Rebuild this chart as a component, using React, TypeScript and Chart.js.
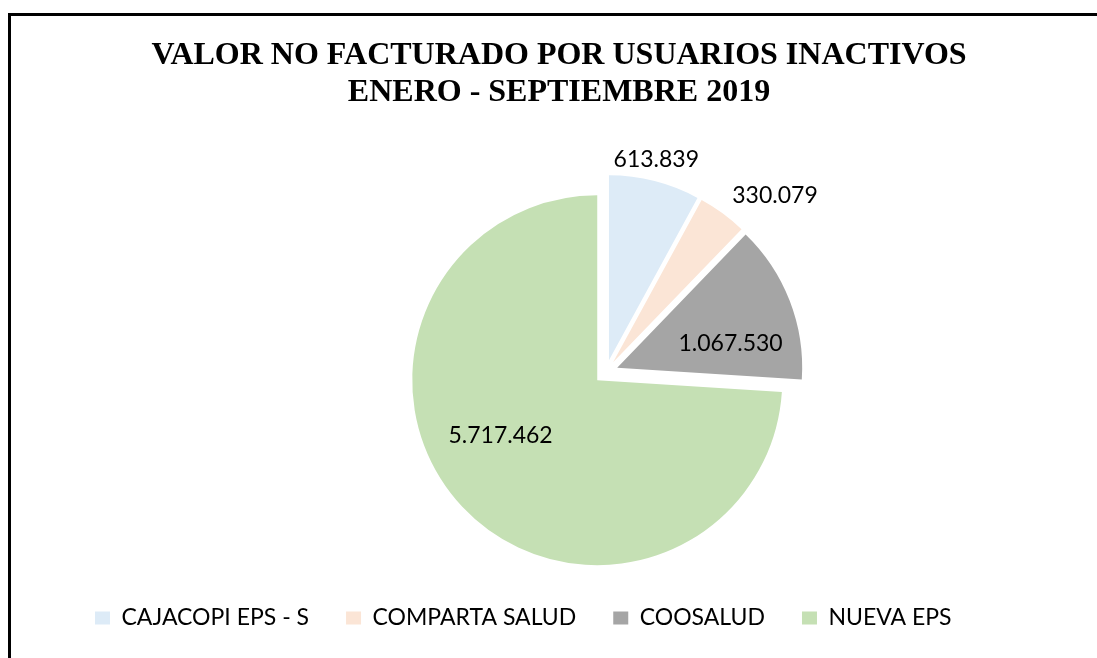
import React, { useEffect, useRef } from "react";
import { Chart, registerables } from "chart.js";

Chart.register(...registerables);

const TITLE_LINES = ["VALOR NO FACTURADO POR USUARIOS INACTIVOS", "ENERO - SEPTIEMBRE 2019"];
const CATEGORIES = ["CAJACOPI EPS - S", "COMPARTA SALUD", "COOSALUD", "NUEVA EPS"];
const VALUES = [613839, 330079, 1067530, 5717462];
const COLORS = ["#DDEBF7", "#FBE5D6", "#A5A5A5", "#C5E0B4"];
// label placement relative to each slice: fraction of radius, angular shift (deg, clockwise)
const LABEL_RADIUS = [1.113, 1.258, 0.626, 0.603];
const LABEL_SHIFT = [-1.0, 7.8, 9.4, 13.2];

const EXPLODE = 12;
const PIE_RADIUS = 185;

function formatEs(v: number): string {
  return String(Math.round(v)).replace(/\B(?=(\d{3})+(?!\d))/g, ".");
}

const explodePlugin = {
  id: "explodeSlices",
  beforeDatasetDraw(chart: any, args: any) {
    const ctx = chart.ctx;
    args.meta.data.forEach((arc: any) => {
      const p = arc.getProps(["startAngle", "endAngle"], true);
      const mid = (p.startAngle + p.endAngle) / 2;
      ctx.save();
      ctx.translate(Math.cos(mid) * EXPLODE, Math.sin(mid) * EXPLODE);
      arc.draw(ctx, chart.chartArea);
      ctx.restore();
    });
    return false;
  },
};

const labelPlugin = {
  id: "sliceLabels",
  afterDatasetsDraw(chart: any) {
    const meta = chart.getDatasetMeta(0);
    const data = chart.data.datasets[0].data as number[];
    const ctx = chart.ctx;
    ctx.save();
    ctx.font = "23px Lato";
    ctx.fillStyle = "#000";
    ctx.textAlign = "center";
    ctx.textBaseline = "middle";
    meta.data.forEach((arc: any, i: number) => {
      const p = arc.getProps(["x", "y", "startAngle", "endAngle", "outerRadius"], true);
      const mid = (p.startAngle + p.endAngle) / 2;
      const cx = p.x + Math.cos(mid) * EXPLODE;
      const cy = p.y + Math.sin(mid) * EXPLODE;
      const a = mid + (LABEL_SHIFT[i] * Math.PI) / 180;
      const r = p.outerRadius * LABEL_RADIUS[i];
      ctx.fillText(formatEs(data[i]), cx + Math.cos(a) * r, cy + Math.sin(a) * r);
    });
    ctx.restore();
  },
};

export default function App() {
  const canvasRef = useRef<HTMLCanvasElement | null>(null);

  useEffect(() => {
    if (!canvasRef.current) return;
    const chart = new Chart(canvasRef.current, {
      type: "pie",
      data: {
        labels: CATEGORIES,
        datasets: [
          {
            data: VALUES,
            backgroundColor: COLORS,
            borderWidth: 0,
          },
        ],
      },
      options: {
        responsive: false,
        animation: false,
        events: [],
        radius: PIE_RADIUS,
        layout: { padding: { left: 58, right: 6, top: 174.5, bottom: 18.5 } },
        plugins: {
          title: { display: false },
          tooltip: { enabled: false },
          legend: {
            display: true,
            position: "bottom",
            align: "start",
            labels: {
              boxWidth: 15,
              boxHeight: 13,
              padding: 37,
              color: "#000",
              font: { family: "Lato", size: 23 },
            },
          },
        },
      } as any,
      plugins: [explodePlugin, labelPlugin],
    });
    return () => chart.destroy();
  }, []);

  return (
    <div
      style={{
        position: "fixed",
        left: 0,
        top: 0,
        width: 1097,
        height: 658,
        overflow: "hidden",
        background: "#fff",
      }}
    >
      <div
        style={{
          position: "absolute",
          left: 8,
          top: 13,
          width: 1200,
          height: 800,
          borderLeft: "3px solid #000",
          borderTop: "3px solid #000",
        }}
      />
      <canvas
        ref={canvasRef}
        width={1160}
        height={658}
        style={{ position: "absolute", left: 0, top: 0, width: 1160, height: 658 }}
      />
      <div
        style={{
          position: "absolute",
          left: 0,
          top: 35,
          width: 1118,
          textAlign: "center",
          fontFamily: "'Liberation Serif', 'Times New Roman', serif",
          fontWeight: "bold",
          fontSize: 32,
          lineHeight: "37px",
          color: "#000",
        }}
      >
        {TITLE_LINES.map((t) => (
          <div key={t}>{t}</div>
        ))}
      </div>
    </div>
  );
}
